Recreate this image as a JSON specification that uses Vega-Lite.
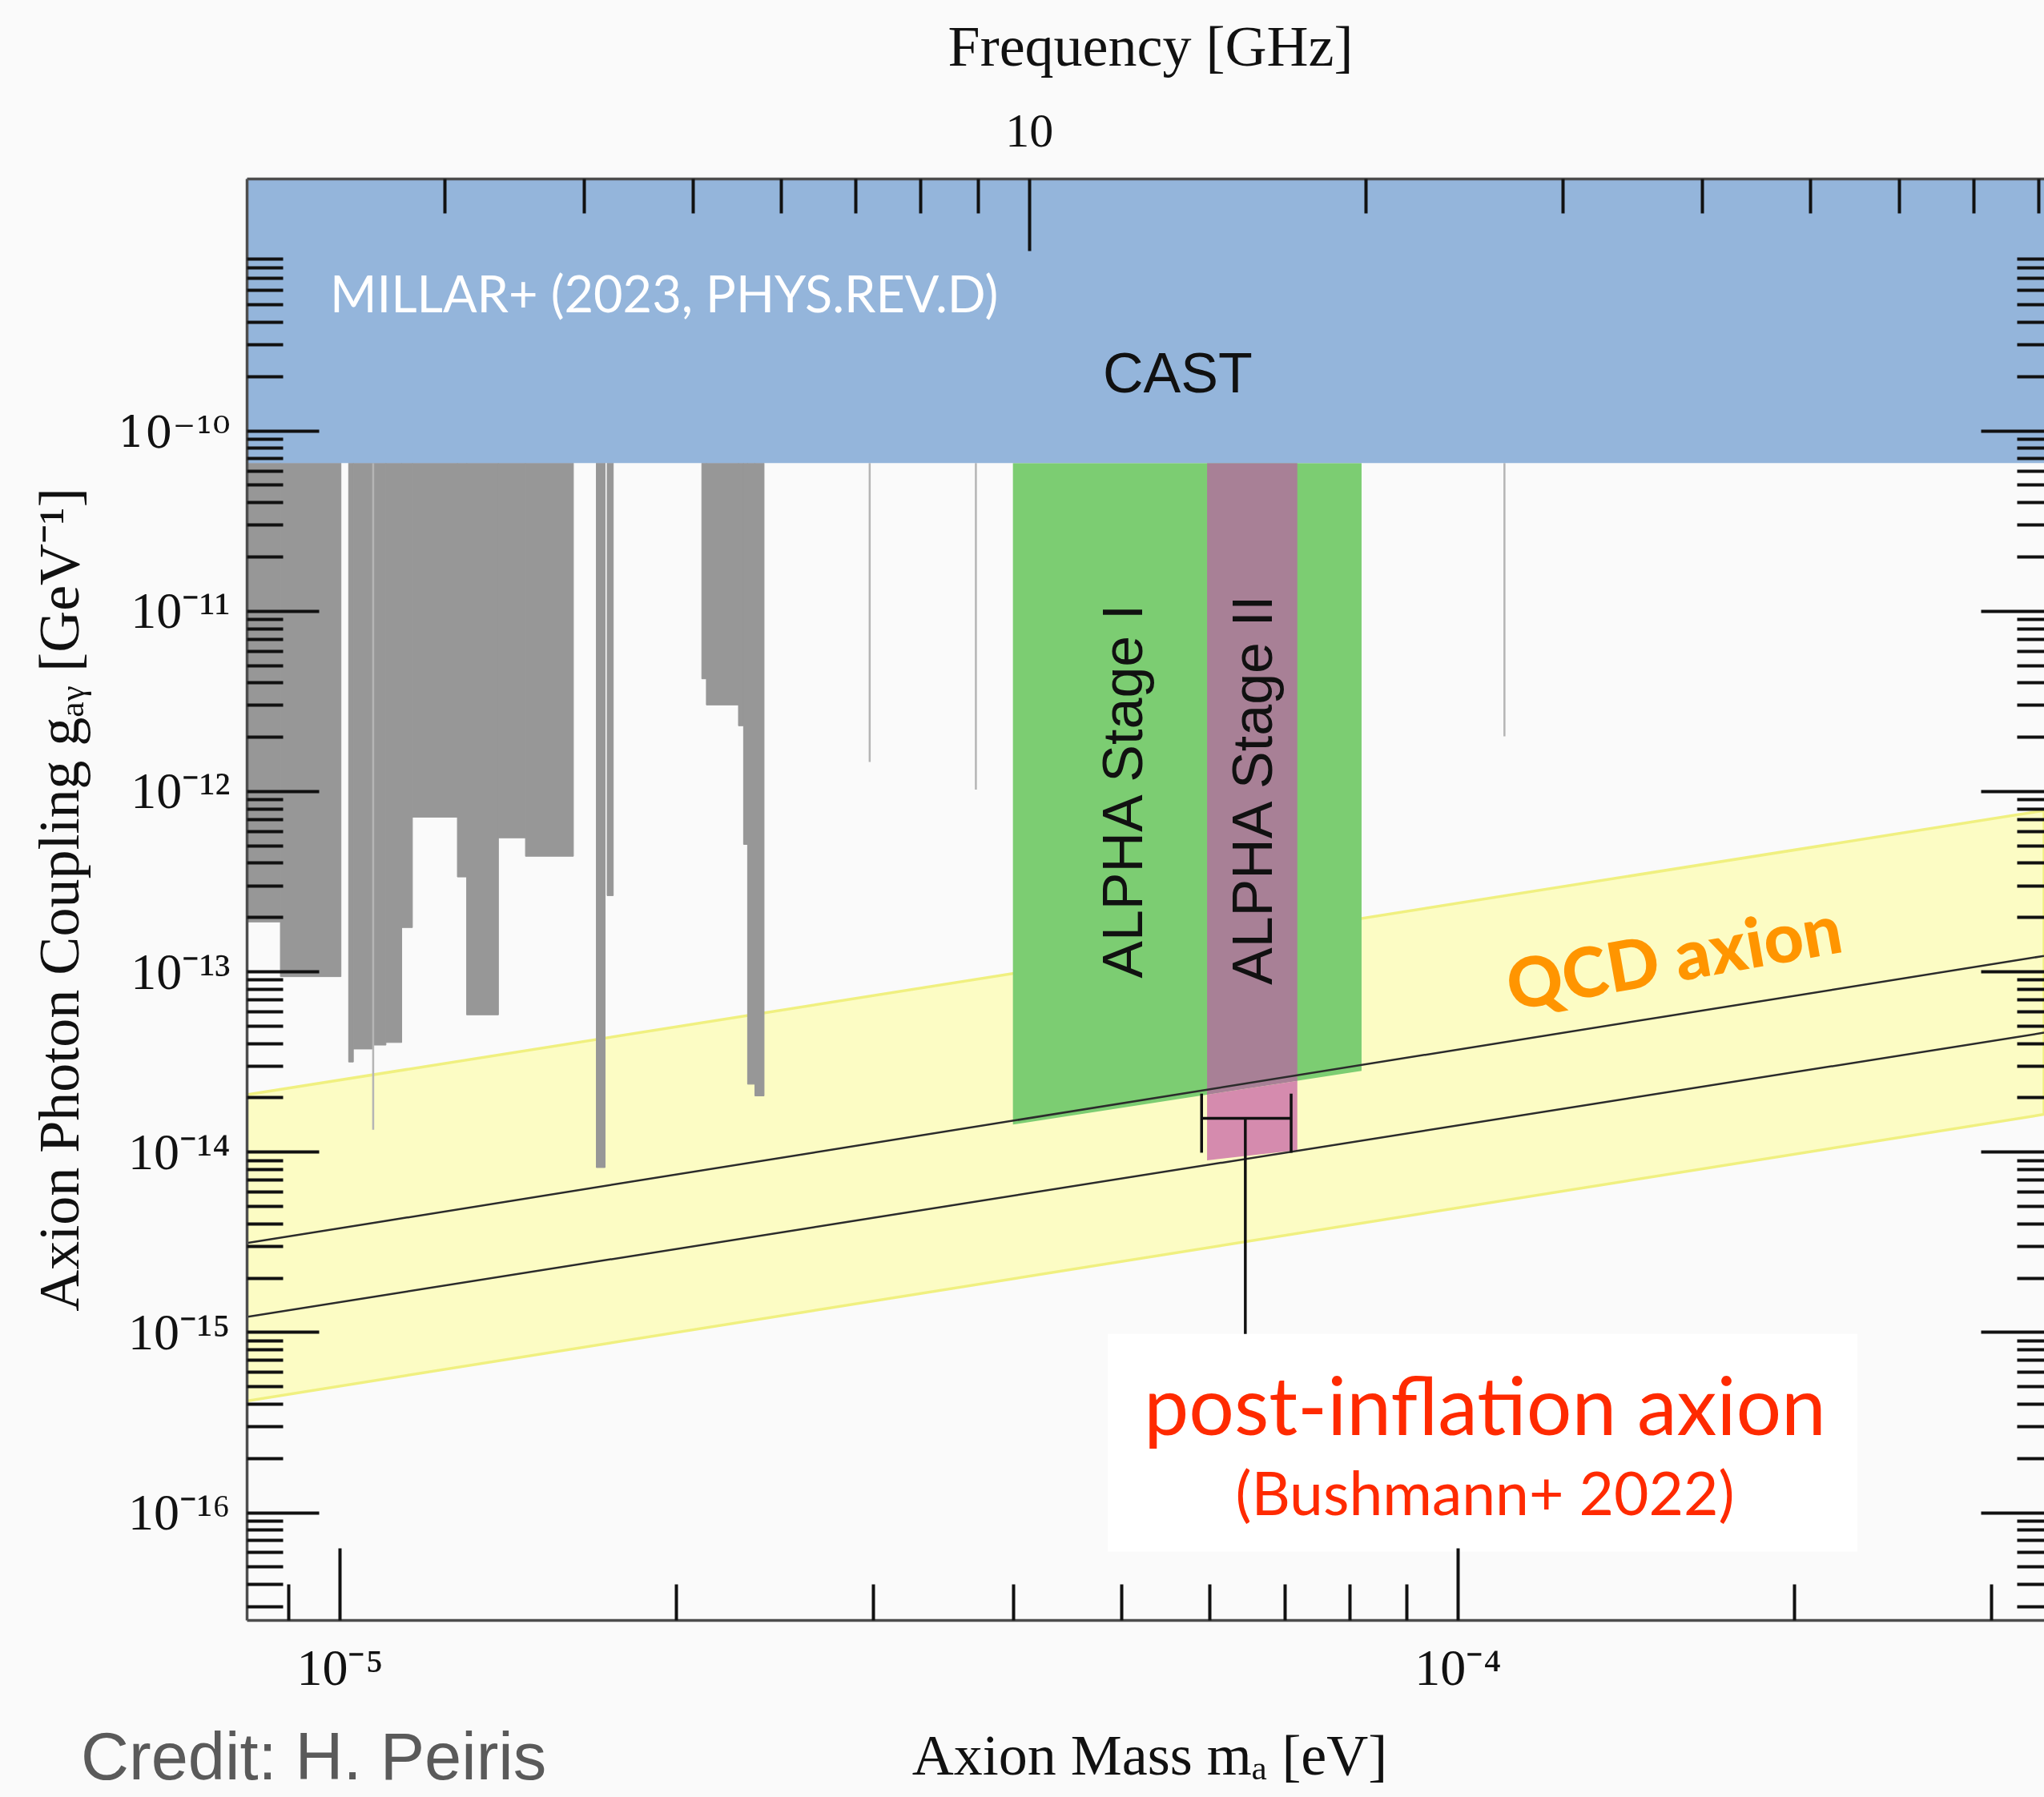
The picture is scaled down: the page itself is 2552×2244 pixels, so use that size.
{
  "$schema": "https://vega.github.io/schema/vega-lite/v6.json",
  "width": 2244,
  "height": 1800,
  "autosize": {"type": "none"},
  "padding": {"left": 308, "top": 223, "right": 0, "bottom": 221},
  "background": "#fafafa",
  "config": {
    "view": {"stroke": null, "fill": null},
    "axis": {
      "domainColor": "#4d4d4d",
      "domainWidth": 3.5,
      "tickColor": "#111111",
      "tickWidth": 4,
      "labelFont": "Liberation Serif",
      "labelColor": "#111111",
      "titleFont": "Liberation Serif",
      "titleFontSize": 72,
      "titleFontWeight": "normal",
      "titleColor": "#111111",
      "labelOverlap": false,
      "labelFlush": false,
      "labelBound": false,
      "grid": false
    }
  },
  "datasets": {
    "band": [
      {"m": 8.2576e-6, "lo": 4.147e-16, "hi": 2.07e-14},
      {"m": 3.3448e-4, "lo": 1.611e-14, "hi": 7.806e-13}
    ],
    "gray": [
      {"m0": 8.2576e-6, "m1": 8.851e-6, "g0": 1.881e-13, "g1": 6.6e-11},
      {"m0": 8.851e-6, "m1": 1.0027e-5, "g0": 9.352e-14, "g1": 6.6e-11},
      {"m0": 1.0187e-5, "m1": 1.0286e-5, "g0": 3.146e-14, "g1": 6.6e-11},
      {"m0": 1.0286e-5, "m1": 1.0709e-5, "g0": 3.713e-14, "g1": 6.6e-11},
      {"m0": 1.0709e-5, "m1": 1.1e-5, "g0": 3.903e-14, "g1": 6.6e-11},
      {"m0": 1.1e-5, "m1": 1.1363e-5, "g0": 4.035e-14, "g1": 6.6e-11},
      {"m0": 1.1363e-5, "m1": 1.1616e-5, "g0": 1.751e-13, "g1": 6.6e-11},
      {"m0": 1.1616e-5, "m1": 1.2744e-5, "g0": 7.171e-13, "g1": 6.6e-11},
      {"m0": 1.2744e-5, "m1": 1.2989e-5, "g0": 3.341e-13, "g1": 6.6e-11},
      {"m0": 1.2989e-5, "m1": 1.3868e-5, "g0": 5.742e-14, "g1": 6.6e-11},
      {"m0": 1.3868e-5, "m1": 1.4663e-5, "g0": 5.503e-13, "g1": 6.6e-11},
      {"m0": 1.4663e-5, "m1": 1.6183e-5, "g0": 4.352e-13, "g1": 6.6e-11},
      {"m0": 1.6966e-5, "m1": 1.7274e-5, "g0": 8.171e-15, "g1": 6.6e-11},
      {"m0": 1.7348e-5, "m1": 1.7568e-5, "g0": 2.633e-13, "g1": 6.6e-11},
      {"m0": 2.1082e-5, "m1": 2.1281e-5, "g0": 4.195e-12, "g1": 6.6e-11},
      {"m0": 2.1281e-5, "m1": 2.2736e-5, "g0": 3.005e-12, "g1": 6.6e-11},
      {"m0": 2.2736e-5, "m1": 2.2976e-5, "g0": 2.303e-12, "g1": 6.6e-11},
      {"m0": 2.2976e-5, "m1": 2.3167e-5, "g0": 5.064e-13, "g1": 6.6e-11},
      {"m0": 2.3167e-5, "m1": 2.3519e-5, "g0": 2.369e-14, "g1": 6.6e-11},
      {"m0": 2.3519e-5, "m1": 2.3965e-5, "g0": 2.04e-14, "g1": 6.6e-11}
    ],
    "thin": [
      {"m": 1.0715e-5, "g0": 1.323e-14, "g1": 6.6e-11},
      {"m": 2.979e-5, "g0": 1.45e-12, "g1": 6.6e-11},
      {"m": 3.7072e-5, "g0": 1.019e-12, "g1": 6.6e-11},
      {"m": 1.101e-4, "g0": 2.015e-12, "g1": 6.6e-11}
    ],
    "alpha1": [
      {"m": 4.001e-5, "lo": 1.4143e-14, "hi": 6.6e-11},
      {"m": 8.2035e-5, "lo": 2.808e-14, "hi": 6.6e-11}
    ],
    "alpha2top": [
      {"m": 5.968e-5, "lo": 2.072e-14, "hi": 6.6e-11},
      {"m": 7.187e-5, "lo": 2.474e-14, "hi": 6.6e-11}
    ],
    "alpha2low": [
      {"m": 5.968e-5, "lo": 8.966e-15, "hi": 2.072e-14},
      {"m": 7.187e-5, "lo": 1.021e-14, "hi": 2.474e-14}
    ],
    "models": [
      {"model": "KSVZ", "m": 8.2576e-6, "g": 3.111e-15},
      {"model": "KSVZ", "m": 3.3448e-4, "g": 1.2186e-13},
      {"model": "DFSZ", "m": 8.2576e-6, "g": 1.2133e-15},
      {"model": "DFSZ", "m": 3.3448e-4, "g": 4.572e-14}
    ],
    "errbar": [
      {"part": "range", "m0": 5.901e-5, "m1": 7.096e-5, "g0": 1.53e-14, "g1": 1.53e-14},
      {"part": "capL", "m0": 5.901e-5, "m1": 5.901e-5, "g0": 9.874e-15, "g1": 2.099e-14},
      {"part": "capR", "m0": 7.096e-5, "m1": 7.096e-5, "g0": 9.874e-15, "g1": 2.099e-14},
      {"part": "stem", "m0": 6.457e-5, "m1": 6.457e-5, "g0": 9.737e-16, "g1": 1.53e-14}
    ],
    "cast": [
      {"m0": 8.2576e-6, "m1": 3.3448e-4, "g0": 6.6e-11, "g1": 2.4952e-9}
    ],
    "box": [
      {"m0": 4.8637e-5, "m1": 2.2778e-4, "g0": 6.053e-17, "g1": 9.767e-16}
    ],
    "anchor": [
      {"m": 1e-5, "f": 10, "g": 1e-12}
    ]
  },
  "resolve": {
    "scale": {"x": "independent", "y": "independent"},
    "axis": {"x": "independent", "y": "independent"}
  },
  "layer": [
    {
      "data": {"name": "band"},
      "mark": {"type": "area", "fill": "#fcfcc4", "stroke": "#f0f080", "strokeWidth": 3.5, "clip": true},
      "encoding": {
        "x": {"field": "m", "type": "quantitative", "scale": {"type": "log", "domain": [8.2576e-6, 3.3448e-4], "nice": false}, "axis": null},
        "y": {"field": "lo", "type": "quantitative", "scale": {"type": "log", "domain": [2.5278e-17, 2.4952e-9], "nice": false}, "axis": null},
        "y2": {"field": "hi"}
      }
    },
    {
      "data": {"name": "gray"},
      "mark": {"type": "rect", "fill": "#979797", "stroke": "#979797", "strokeWidth": 1, "clip": true},
      "encoding": {
        "x": {"field": "m0", "type": "quantitative", "scale": {"type": "log", "domain": [8.2576e-6, 3.3448e-4], "nice": false}, "axis": null},
        "x2": {"field": "m1"},
        "y": {"field": "g0", "type": "quantitative", "scale": {"type": "log", "domain": [2.5278e-17, 2.4952e-9], "nice": false}, "axis": null},
        "y2": {"field": "g1"}
      }
    },
    {
      "data": {"name": "thin"},
      "mark": {"type": "rule", "color": "#b5b5b5", "strokeWidth": 2.5, "clip": true},
      "encoding": {
        "x": {"field": "m", "type": "quantitative", "scale": {"type": "log", "domain": [8.2576e-6, 3.3448e-4], "nice": false}, "axis": null},
        "y": {"field": "g0", "type": "quantitative", "scale": {"type": "log", "domain": [2.5278e-17, 2.4952e-9], "nice": false}, "axis": null},
        "y2": {"field": "g1"}
      }
    },
    {
      "data": {"name": "alpha1"},
      "mark": {"type": "area", "fill": "#7ccd72", "clip": true},
      "encoding": {
        "x": {"field": "m", "type": "quantitative", "scale": {"type": "log", "domain": [8.2576e-6, 3.3448e-4], "nice": false}, "axis": null},
        "y": {"field": "lo", "type": "quantitative", "scale": {"type": "log", "domain": [2.5278e-17, 2.4952e-9], "nice": false}, "axis": null},
        "y2": {"field": "hi"}
      }
    },
    {
      "data": {"name": "alpha2top"},
      "mark": {"type": "area", "fill": "#a88096", "clip": true},
      "encoding": {
        "x": {"field": "m", "type": "quantitative", "scale": {"type": "log", "domain": [8.2576e-6, 3.3448e-4], "nice": false}, "axis": null},
        "y": {"field": "lo", "type": "quantitative", "scale": {"type": "log", "domain": [2.5278e-17, 2.4952e-9], "nice": false}, "axis": null},
        "y2": {"field": "hi"}
      }
    },
    {
      "data": {"name": "alpha2low"},
      "mark": {"type": "area", "fill": "#d58bae", "clip": true},
      "encoding": {
        "x": {"field": "m", "type": "quantitative", "scale": {"type": "log", "domain": [8.2576e-6, 3.3448e-4], "nice": false}, "axis": null},
        "y": {"field": "lo", "type": "quantitative", "scale": {"type": "log", "domain": [2.5278e-17, 2.4952e-9], "nice": false}, "axis": null},
        "y2": {"field": "hi"}
      }
    },
    {
      "data": {"name": "models"},
      "mark": {"type": "line", "color": "#2b2b2b", "strokeWidth": 2.5, "clip": true},
      "encoding": {
        "x": {"field": "m", "type": "quantitative", "scale": {"type": "log", "domain": [8.2576e-6, 3.3448e-4], "nice": false}, "axis": null},
        "y": {"field": "g", "type": "quantitative", "scale": {"type": "log", "domain": [2.5278e-17, 2.4952e-9], "nice": false}, "axis": null},
        "detail": {"field": "model"}
      }
    },
    {
      "data": {"name": "errbar"},
      "mark": {"type": "rule", "color": "#111111", "strokeWidth": 3.5, "clip": true},
      "encoding": {
        "x": {"field": "m0", "type": "quantitative", "scale": {"type": "log", "domain": [8.2576e-6, 3.3448e-4], "nice": false}, "axis": null},
        "x2": {"field": "m1"},
        "y": {"field": "g0", "type": "quantitative", "scale": {"type": "log", "domain": [2.5278e-17, 2.4952e-9], "nice": false}, "axis": null},
        "y2": {"field": "g1"}
      }
    },
    {
      "data": {"name": "cast"},
      "mark": {"type": "rect", "fill": "#94b5db", "clip": true},
      "encoding": {
        "x": {"field": "m0", "type": "quantitative", "scale": {"type": "log", "domain": [8.2576e-6, 3.3448e-4], "nice": false}, "axis": null},
        "x2": {"field": "m1"},
        "y": {"field": "g0", "type": "quantitative", "scale": {"type": "log", "domain": [2.5278e-17, 2.4952e-9], "nice": false}, "axis": null},
        "y2": {"field": "g1"}
      }
    },
    {
      "data": {"name": "box"},
      "mark": {"type": "rect", "fill": "#ffffff", "clip": true},
      "encoding": {
        "x": {"field": "m0", "type": "quantitative", "scale": {"type": "log", "domain": [8.2576e-6, 3.3448e-4], "nice": false}, "axis": null},
        "x2": {"field": "m1"},
        "y": {"field": "g0", "type": "quantitative", "scale": {"type": "log", "domain": [2.5278e-17, 2.4952e-9], "nice": false}, "axis": null},
        "y2": {"field": "g1"}
      }
    },
    {
      "data": {"values": [{"label": "MILLAR+ (2023, PHYS.REV.D)", "m": 9.804e-6, "g": 4.527e-10}]},
      "mark": {"type": "text", "align": "left", "baseline": "alphabetic", "font": "Lato", "fontSize": 63, "color": "#ffffff"},
      "encoding": {
        "x": {"field": "m", "type": "quantitative", "scale": {"type": "log", "domain": [8.2576e-6, 3.3448e-4], "nice": false}, "axis": null},
        "y": {"field": "g", "type": "quantitative", "scale": {"type": "log", "domain": [2.5278e-17, 2.4952e-9], "nice": false}, "axis": null},
        "text": {"field": "label"}
      }
    },
    {
      "data": {"values": [{"label": "CAST", "m": 5.617e-5, "g": 1.628e-10}]},
      "mark": {"type": "text", "align": "center", "baseline": "alphabetic", "font": "Liberation Sans", "fontSize": 70, "color": "#111111"},
      "encoding": {
        "x": {"field": "m", "type": "quantitative", "scale": {"type": "log", "domain": [8.2576e-6, 3.3448e-4], "nice": false}, "axis": null},
        "y": {"field": "g", "type": "quantitative", "scale": {"type": "log", "domain": [2.5278e-17, 2.4952e-9], "nice": false}, "axis": null},
        "text": {"field": "label"}
      }
    },
    {
      "data": {"values": [
        {"label": "ALPHA Stage I", "m": 5.221e-5, "g": 9.959e-13},
        {"label": "ALPHA Stage II", "m": 6.82e-5, "g": 1.011e-12}
      ]},
      "mark": {"type": "text", "align": "center", "baseline": "alphabetic", "angle": 270, "font": "Liberation Sans", "fontSize": 70, "color": "#111111"},
      "encoding": {
        "x": {"field": "m", "type": "quantitative", "scale": {"type": "log", "domain": [8.2576e-6, 3.3448e-4], "nice": false}, "axis": null},
        "y": {"field": "g", "type": "quantitative", "scale": {"type": "log", "domain": [2.5278e-17, 2.4952e-9], "nice": false}, "axis": null},
        "text": {"field": "label"}
      }
    },
    {
      "data": {"values": [{"label": "QCD axion", "m": 1.5633e-4, "g": 1.1457e-13}]},
      "mark": {"type": "text", "align": "center", "baseline": "middle", "angle": 350, "font": "Lato", "fontWeight": 900, "fontSize": 86, "color": "#ff9500"},
      "encoding": {
        "x": {"field": "m", "type": "quantitative", "scale": {"type": "log", "domain": [8.2576e-6, 3.3448e-4], "nice": false}, "axis": null},
        "y": {"field": "g", "type": "quantitative", "scale": {"type": "log", "domain": [2.5278e-17, 2.4952e-9], "nice": false}, "axis": null},
        "text": {"field": "label"}
      }
    },
    {
      "data": {"values": [{"label": "post-inflation axion", "m": 1.0577e-4, "g": 2.693e-16}]},
      "mark": {"type": "text", "align": "center", "baseline": "alphabetic", "font": "Lato", "fontSize": 100, "color": "#ff2a00"},
      "encoding": {
        "x": {"field": "m", "type": "quantitative", "scale": {"type": "log", "domain": [8.2576e-6, 3.3448e-4], "nice": false}, "axis": null},
        "y": {"field": "g", "type": "quantitative", "scale": {"type": "log", "domain": [2.5278e-17, 2.4952e-9], "nice": false}, "axis": null},
        "text": {"field": "label"}
      }
    },
    {
      "data": {"values": [{"label": "(Bushmann+ 2022)", "m": 1.0577e-4, "g": 9.638e-17}]},
      "mark": {"type": "text", "align": "center", "baseline": "alphabetic", "font": "Lato", "fontSize": 75, "color": "#ff2a00"},
      "encoding": {
        "x": {"field": "m", "type": "quantitative", "scale": {"type": "log", "domain": [8.2576e-6, 3.3448e-4], "nice": false}, "axis": null},
        "y": {"field": "g", "type": "quantitative", "scale": {"type": "log", "domain": [2.5278e-17, 2.4952e-9], "nice": false}, "axis": null},
        "text": {"field": "label"}
      }
    },
    {
      "data": {"values": [{"label": "Credit: H. Peiris", "m": 5.87e-6, "g": 3.318e-18}]},
      "mark": {"type": "text", "align": "left", "baseline": "alphabetic", "font": "Liberation Sans", "fontSize": 83, "color": "#5a5a5a"},
      "encoding": {
        "x": {"field": "m", "type": "quantitative", "scale": {"type": "log", "domain": [8.2576e-6, 3.3448e-4], "nice": false}, "axis": null},
        "y": {"field": "g", "type": "quantitative", "scale": {"type": "log", "domain": [2.5278e-17, 2.4952e-9], "nice": false}, "axis": null},
        "text": {"field": "label"}
      }
    },
    {
      "data": {"name": "anchor"},
      "mark": {"type": "point", "opacity": 0},
      "encoding": {
        "x": {
          "field": "m", "type": "quantitative",
          "scale": {"type": "log", "domain": [8.2576e-6, 3.3448e-4], "nice": false},
          "axis": {
            "orient": "bottom", "zindex": 2, "ticks": false, "tickSize": 0,
            "values": [1e-5, 1e-4],
            "labelExpr": "datum.value == 1e-5 ? '10⁻⁵' : '10⁻⁴'",
            "labelBaseline": "alphabetic", "labelPadding": 80, "labelFontSize": 64,
            "title": "Axion Mass mₐ [eV]", "titleX": 1127, "titleY": 192, "titleBaseline": "alphabetic"
          }
        },
        "y": {
          "field": "g", "type": "quantitative",
          "scale": {"type": "log", "domain": [2.5278e-17, 2.4952e-9], "nice": false},
          "axis": {
            "orient": "left", "zindex": 2, "ticks": false, "tickSize": 0,
            "values": [1e-16, 1e-15, 1e-14, 1e-13, 1e-12, 1e-11, 1e-10],
            "labelExpr": "datum.value == 1e-10 ? '10⁻¹⁰' : datum.value == 1e-11 ? '10⁻¹¹' : datum.value == 1e-12 ? '10⁻¹²' : datum.value == 1e-13 ? '10⁻¹³' : datum.value == 1e-14 ? '10⁻¹⁴' : datum.value == 1e-15 ? '10⁻¹⁵' : '10⁻¹⁶'",
            "labelFont": {"condition": {"test": "datum.value == 1e-10", "value": "DejaVu Serif"}, "value": "Liberation Serif"},
            "labelFontSize": {"condition": {"test": "datum.value == 1e-10", "value": 54}, "value": 64},
            "labelBaseline": "alphabetic", "labelOffset": 21, "labelPadding": 21,
            "title": "Axion Photon Coupling gₐᵧ [GeV⁻¹]", "titleX": -211, "titleY": 900, "titleAngle": 270, "titleBaseline": "alphabetic"
          }
        }
      }
    },
    {
      "data": {"name": "anchor"},
      "mark": {"type": "point", "opacity": 0},
      "encoding": {
        "x": {
          "field": "m", "type": "quantitative",
          "scale": {"type": "log", "domain": [8.2576e-6, 3.3448e-4], "nice": false},
          "axis": {
            "orient": "bottom", "zindex": 2, "domain": false, "labels": false, "title": null,
            "values": [1e-5, 1e-4], "tickSize": -90
          }
        },
        "y": {
          "field": "g", "type": "quantitative",
          "scale": {"type": "log", "domain": [2.5278e-17, 2.4952e-9], "nice": false},
          "axis": {
            "orient": "left", "zindex": 2, "domain": false, "labels": false, "title": null,
            "values": [1e-16, 1e-15, 1e-14, 1e-13, 1e-12, 1e-11, 1e-10], "tickSize": -90
          }
        }
      }
    },
    {
      "data": {"name": "anchor"},
      "mark": {"type": "point", "opacity": 0},
      "encoding": {
        "x": {
          "field": "m", "type": "quantitative",
          "scale": {"type": "log", "domain": [8.2576e-6, 3.3448e-4], "nice": false},
          "axis": {
            "orient": "bottom", "zindex": 2, "domain": false, "labels": false, "title": null,
            "values": [9e-6, 2e-5, 3e-5, 4e-5, 5e-5, 6e-5, 7e-5, 8e-5, 9e-5, 2e-4, 3e-4], "tickSize": -45
          }
        },
        "y": {
          "field": "g", "type": "quantitative",
          "scale": {"type": "log", "domain": [2.5278e-17, 2.4952e-9], "nice": false},
          "axis": {
            "orient": "left", "zindex": 2, "domain": false, "labels": false, "title": null,
            "values": [3e-17, 4e-17, 5e-17, 6e-17, 7e-17, 8e-17, 9e-17,
                       2e-16, 3e-16, 4e-16, 5e-16, 6e-16, 7e-16, 8e-16, 9e-16,
                       2e-15, 3e-15, 4e-15, 5e-15, 6e-15, 7e-15, 8e-15, 9e-15,
                       2e-14, 3e-14, 4e-14, 5e-14, 6e-14, 7e-14, 8e-14, 9e-14,
                       2e-13, 3e-13, 4e-13, 5e-13, 6e-13, 7e-13, 8e-13, 9e-13,
                       2e-12, 3e-12, 4e-12, 5e-12, 6e-12, 7e-12, 8e-12, 9e-12,
                       2e-11, 3e-11, 4e-11, 5e-11, 6e-11, 7e-11, 8e-11, 9e-11,
                       2e-10, 3e-10, 4e-10, 5e-10, 6e-10, 7e-10, 8e-10, 9e-10],
            "tickSize": -45
          }
        }
      }
    },
    {
      "data": {"name": "anchor"},
      "mark": {"type": "point", "opacity": 0},
      "encoding": {
        "x": {
          "field": "f", "type": "quantitative",
          "scale": {"type": "log", "domain": [1.99669, 80.877], "nice": false},
          "axis": {
            "orient": "top", "zindex": 2, "ticks": false, "tickSize": 0,
            "values": [10],
            "labelExpr": "'10'",
            "labelBaseline": "alphabetic", "labelPadding": 41, "labelFontSize": 60,
            "title": "Frequency [GHz]", "titleX": 1128, "titleY": -142, "titleBaseline": "alphabetic"
          }
        },
        "y": {
          "field": "g", "type": "quantitative",
          "scale": {"type": "log", "domain": [2.5278e-17, 2.4952e-9], "nice": false},
          "axis": {
            "orient": "right", "zindex": 2, "offset": 11, "domain": false, "labels": false, "title": null,
            "values": [1e-16, 1e-15, 1e-14, 1e-13, 1e-12, 1e-11, 1e-10], "tickSize": -90
          }
        }
      }
    },
    {
      "data": {"name": "anchor"},
      "mark": {"type": "point", "opacity": 0},
      "encoding": {
        "x": {
          "field": "f", "type": "quantitative",
          "scale": {"type": "log", "domain": [1.99669, 80.877], "nice": false},
          "axis": {
            "orient": "top", "zindex": 2, "domain": false, "labels": false, "title": null,
            "values": [10], "tickSize": -90
          }
        },
        "y": {
          "field": "g", "type": "quantitative",
          "scale": {"type": "log", "domain": [2.5278e-17, 2.4952e-9], "nice": false},
          "axis": {
            "orient": "right", "zindex": 2, "offset": 11, "domain": false, "labels": false, "title": null,
            "values": [3e-17, 4e-17, 5e-17, 6e-17, 7e-17, 8e-17, 9e-17,
                       2e-16, 3e-16, 4e-16, 5e-16, 6e-16, 7e-16, 8e-16, 9e-16,
                       2e-15, 3e-15, 4e-15, 5e-15, 6e-15, 7e-15, 8e-15, 9e-15,
                       2e-14, 3e-14, 4e-14, 5e-14, 6e-14, 7e-14, 8e-14, 9e-14,
                       2e-13, 3e-13, 4e-13, 5e-13, 6e-13, 7e-13, 8e-13, 9e-13,
                       2e-12, 3e-12, 4e-12, 5e-12, 6e-12, 7e-12, 8e-12, 9e-12,
                       2e-11, 3e-11, 4e-11, 5e-11, 6e-11, 7e-11, 8e-11, 9e-11,
                       2e-10, 3e-10, 4e-10, 5e-10, 6e-10, 7e-10, 8e-10, 9e-10],
            "tickSize": -45
          }
        }
      }
    },
    {
      "data": {"name": "anchor"},
      "mark": {"type": "point", "opacity": 0},
      "encoding": {
        "x": {
          "field": "f", "type": "quantitative",
          "scale": {"type": "log", "domain": [1.99669, 80.877], "nice": false},
          "axis": {
            "orient": "top", "zindex": 2, "domain": false, "labels": false, "title": null,
            "values": [3, 4, 5, 6, 7, 8, 9, 20, 30, 40, 50, 60, 70, 80], "tickSize": -43
          }
        },
        "y": {
          "field": "g", "type": "quantitative",
          "scale": {"type": "log", "domain": [2.5278e-17, 2.4952e-9], "nice": false},
          "axis": null
        }
      }
    }
  ]
}
